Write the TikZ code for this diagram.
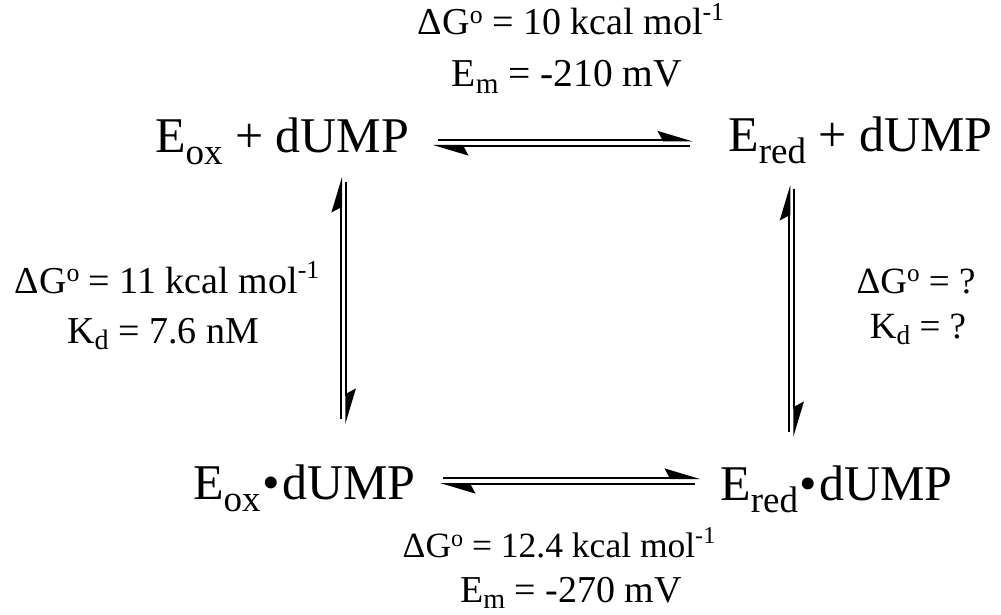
\documentclass[tikz,border=0pt]{standalone}
\usepackage{fontspec}
\setmainfont{Liberation Serif}
\usetikzlibrary{arrows.meta}
\newcommand\bsub[1]{\raisebox{-12pt}{\fontsize{37}{37}\selectfont #1}}
\newcommand\lsub[1]{\raisebox{-0.17em}{\fontsize{\the\dimexpr0.74\fontdimen6\font\relax}{1pt}\selectfont #1}}
\newcommand\lsup[1]{\raisebox{0.38em}{\fontsize{\the\dimexpr0.68\fontdimen6\font\relax}{1pt}\selectfont #1}}
\newcommand\dego{\raisebox{0.3em}{\fontsize{\the\dimexpr0.68\fontdimen6\font\relax}{1pt}\selectfont o}}
\newcommand\bul{\hspace{2pt}•\hspace{2pt}}
\begin{document}
\begin{tikzpicture}[x=1pt,y=-1pt,
  species/.style={inner sep=0pt,anchor=base west,font=\fontsize{50}{60}\selectfont},
  lbl/.style={inner sep=0pt,anchor=base,font=\fontsize{#1}{#1}\selectfont},
  harp/.style={line width=2pt,-{Stealth[left,length=32pt,width=19pt,inset=5pt]}}]
\useasboundingbox (0,0) rectangle (1001,615);
% species
\node[species] (eox)   at (155,153) {E\bsub{ox} + dUMP};
\node[species] (ered)  at (728,152) {E\bsub{red} + dUMP};
\node[species] (eoxd)  at (193,499) {E\bsub{ox}\bul dUMP};
\node[species] (eredd) at (720,500) {E\bsub{red}\bul dUMP};
% labels
\node[lbl=38] (topA) at (571,35)  {ΔG\dego{} = 10 kcal mol\lsup{-1}};
\node[lbl=39.5] (topB) at (567,87)  {E\lsub{m} = -210 mV};
\node[lbl=38] (lefA) at (167,293) {ΔG\dego{} = 11 kcal mol\lsup{-1}};
\node[lbl=38] (lefB) at (163,343) {K\lsub{d} = 7.6 nM};
\node[lbl=37] (rigA) at (916,293) {ΔG\dego{} = ?};
\node[lbl=37] (rigB) at (918,338) {K\lsub{d} = ?};
\node[lbl=35.5] (botA) at (559,557) {ΔG\dego{} = 12.4 kcal mol\lsup{-1}};
\node[lbl=38] (botB) at (571,602) {E\lsub{m} = -270 mV};
% arrow end points
\coordinate (t1) at (438,140.5); \coordinate (t2) at (693,140.5);
\coordinate (t3) at (690,146);   \coordinate (t4) at (433,146);
\coordinate (b1) at (443,478);   \coordinate (b2) at (700,478);
\coordinate (b3) at (695,484);   \coordinate (b4) at (440,484);
\coordinate (l1) at (341,419);   \coordinate (l2) at (341,177);
\coordinate (l3) at (346.3,182); \coordinate (l4) at (346.3,424);
\coordinate (r1) at (789.3,432); \coordinate (r2) at (789.3,185);
\coordinate (r3) at (794.3,189); \coordinate (r4) at (794.3,437);
\draw[harp] (t1) -- (t2);
\draw[harp] (t3) -- (t4);
\draw[harp] (b1) -- (b2);
\draw[harp] (b3) -- (b4);
\draw[harp] (l1) -- (l2);
\draw[harp] (l3) -- (l4);
\draw[harp] (r1) -- (r2);
\draw[harp] (r3) -- (r4);
\end{tikzpicture}
\end{document}
